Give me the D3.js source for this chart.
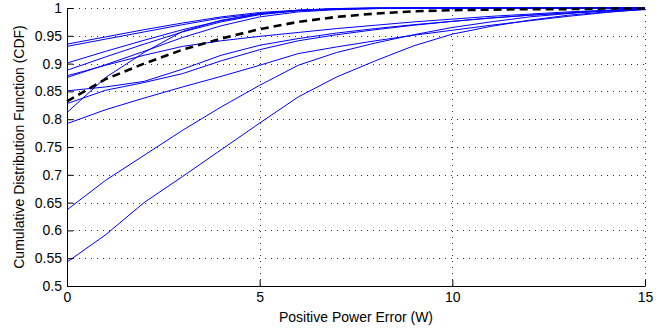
<!DOCTYPE html>
<html>
<head>
<meta charset="utf-8">
<script src="https://d3js.org/d3.v7.min.js"></script>
<style>
  body { margin: 0; background: #ffffff; }
  text { font-family: "Liberation Sans", Arial, Helvetica, sans-serif; }
</style>
</head>
<body>
<svg id="drawing_region"></svg>
<script>
// positive power error (W) at which every curve is sampled
const errorValues = [0, 1, 2, 3, 4, 5, 6, 7, 8, 9, 10, 11, 12, 13, 14, 15];

// per-device CDF curves (blue)
const curve01 = [0.935, 0.948, 0.961, 0.973, 0.984, 0.992, 0.996, 0.998, 0.999, 1, 1, 1, 1, 1, 1, 1];
const curve02 = [0.931, 0.944, 0.957, 0.970, 0.982, 0.990, 0.995, 0.998, 0.999, 1, 1, 1, 1, 1, 1, 1];
const curve03 = [0.901, 0.922, 0.942, 0.961, 0.977, 0.989, 0.996, 0.999, 1, 1, 1, 1, 1, 1, 1, 1];
const curve04 = [0.888, 0.912, 0.935, 0.957, 0.975, 0.988, 0.995, 0.998, 1, 1, 1, 1, 1, 1, 1, 1];
const curve05 = [0.878, 0.897, 0.915, 0.931, 0.941, 0.949, 0.956, 0.963, 0.969, 0.975, 0.980, 0.985, 0.989, 0.993, 0.996, 0.998];
const curve06 = [0.875, 0.898, 0.922, 0.947, 0.968, 0.984, 0.993, 0.997, 0.999, 1, 1, 1, 1, 1, 1, 1];
const curve07 = [0.851, 0.858, 0.868, 0.890, 0.915, 0.933, 0.945, 0.955, 0.963, 0.970, 0.976, 0.982, 0.987, 0.991, 0.995, 0.998];
const curve08 = [0.828, 0.852, 0.866, 0.882, 0.905, 0.925, 0.941, 0.952, 0.961, 0.969, 0.976, 0.982, 0.987, 0.991, 0.995, 0.998];
const curve09 = [0.812, 0.875, 0.920, 0.958, 0.978, 0.990, 0.996, 0.999, 1, 1, 1, 1, 1, 1, 1, 1];
const curve10 = [0.792, 0.817, 0.838, 0.858, 0.877, 0.897, 0.918, 0.930, 0.941, 0.951, 0.960, 0.969, 0.977, 0.985, 0.992, 0.998];
const curve11 = [0.637, 0.690, 0.735, 0.780, 0.822, 0.861, 0.897, 0.920, 0.937, 0.952, 0.965, 0.975, 0.984, 0.990, 0.995, 0.998];
const curve12 = [0.543, 0.592, 0.650, 0.697, 0.745, 0.793, 0.840, 0.876, 0.905, 0.932, 0.953, 0.967, 0.978, 0.987, 0.993, 0.997];

// overall CDF (black dashed)
const overallCurve = [0.832, 0.872, 0.900, 0.925, 0.945, 0.962, 0.975, 0.984, 0.990, 0.994, 0.996, 0.997, 0.998, 0.998, 0.999, 0.999];

const xTicks = [0, 5, 10, 15];
const yTicks = [0.5, 0.55, 0.6, 0.65, 0.7, 0.75, 0.8, 0.85, 0.9, 0.95, 1];
const yTickLabels = ["0.5", "0.55", "0.6", "0.65", "0.7", "0.75", "0.8", "0.85", "0.9", "0.95", "1"];

const blueCurves = [curve01, curve02, curve03, curve04, curve05, curve06,
                    curve07, curve08, curve09, curve10, curve11, curve12];

class CdfChart {

    constructor( config ) {
        this.config = {
            parent: config.parent,
            width: config.width || 670,
            height: config.height || 330,
            margin: config.margin || {top:10, right:10, bottom:10, left:10}
        }
        this.init();
    }

    init() {
        let self = this;

        self.svg = d3.select( self.config.parent )
            .attr('width', self.config.width)
            .attr('height', self.config.height);

        self.inner_width = self.config.width - self.config.margin.left - self.config.margin.right;
        self.inner_height = self.config.height - self.config.margin.top - self.config.margin.bottom;

        self.chart = self.svg.append('g')
            .attr('transform', `translate(${self.config.margin.left}, ${self.config.margin.top})`);

        self.xscale = d3.scaleLinear()
            .domain([0, 15])
            .range([0, self.inner_width]);

        self.yscale = d3.scaleLinear()
            .domain([0.5, 1])
            .range([self.inner_height, 0]);

        self.line = d3.line()
            .x((d, i) => self.xscale(errorValues[i]))
            .y(d => self.yscale(d));
    }

    render() {
        let self = this;

        // dotted grid
        self.chart.append('g')
            .selectAll('line')
            .data(yTicks.slice(1))
            .join('line')
            .attr('x1', 0)
            .attr('x2', self.inner_width)
            .attr('y1', d => Math.round(self.yscale(d)) + 0.5)
            .attr('y2', d => Math.round(self.yscale(d)) + 0.5)
            .attr('stroke', '#333')
            .attr('stroke-dasharray', '1,5')
            .attr('shape-rendering', 'crispEdges');

        self.chart.append('g')
            .selectAll('line')
            .data(xTicks.slice(1))
            .join('line')
            .attr('x1', d => Math.round(self.xscale(d)) + 0.5)
            .attr('x2', d => Math.round(self.xscale(d)) + 0.5)
            .attr('y1', self.inner_height)
            .attr('y2', 0)
            .attr('stroke', '#333')
            .attr('stroke-dasharray', '1,5')
            .attr('shape-rendering', 'crispEdges');

        // curves
        self.chart.append('g')
            .selectAll('path')
            .data(blueCurves)
            .join('path')
            .attr('d', self.line)
            .attr('fill', 'none')
            .attr('stroke', '#0000ff')
            .attr('stroke-width', 1);

        self.chart.append('path')
            .datum(overallCurve)
            .attr('d', self.line)
            .attr('fill', 'none')
            .attr('stroke', '#000000')
            .attr('stroke-width', 2.6)
            .attr('stroke-dasharray', '8,5');

        // axes, ticks pointing inward
        const xaxis = d3.axisBottom(self.xscale)
            .tickValues(xTicks)
            .tickFormat(d3.format('d'))
            .tickSizeInner(-6)
            .tickSizeOuter(0)
            .tickPadding(6);

        const yaxis = d3.axisLeft(self.yscale)
            .tickValues(yTicks)
            .tickFormat((d, i) => yTickLabels[i])
            .tickSizeInner(-6)
            .tickSizeOuter(0)
            .tickPadding(5);

        const xg = self.chart.append('g')
            .attr('transform', `translate(0, ${self.inner_height})`)
            .call(xaxis);

        const yg = self.chart.append('g')
            .call(yaxis);

        [xg, yg].forEach(g => {
            g.selectAll('text')
                .attr('font-size', '14px')
                .attr('fill', '#000');
            g.selectAll('path, line')
                .attr('stroke', '#000');
            g.attr('font-family', null);
        });

        // axis titles
        self.svg.append('text')
            .attr('x', self.config.margin.left + self.inner_width / 2)
            .attr('y', 322)
            .attr('text-anchor', 'middle')
            .attr('font-size', '14px')
            .attr('fill', '#000')
            .text('Positive Power Error (W)');

        self.svg.append('text')
            .attr('transform', `translate(24, ${self.config.margin.top + self.inner_height / 2}) rotate(-90)`)
            .attr('text-anchor', 'middle')
            .attr('font-size', '14px')
            .attr('fill', '#000')
            .text('Cumulative Distribution Function (CDF)');
    }
}

const cdf_chart = new CdfChart({
    parent: '#drawing_region',
    width: 670,
    height: 330,
    margin: {top:8, right:25, bottom:44, left:67}
});
cdf_chart.render();
</script>
</body>
</html>
